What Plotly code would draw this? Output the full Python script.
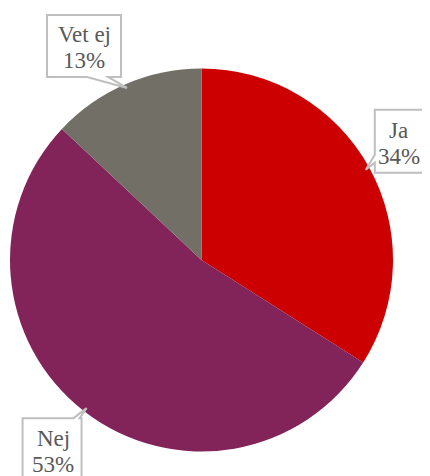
import math
import plotly.graph_objects as go

labels = ["Ja", "Nej", "Vet ej"]
values = [34, 53, 13]
colors = ["#CC0000", "#82245A", "#716F66"]
pct_text = ["34%", "53%", "13%"]

OFF = 8  # page body margin
W, H = 430 - OFF, 476 - OFF
cx, cy, r = 201.5 - OFF, 260.0 - OFF, 191.5
dom_x = [(cx - r) / W, (cx + r) / W]
dom_y = [1 - (cy + r) / H, 1 - (cy - r) / H]

fig = go.Figure(go.Pie(
    labels=labels, values=values, sort=False, direction="clockwise", rotation=0,
    marker=dict(colors=colors, line=dict(width=0)),
    textinfo="none", hoverinfo="label+percent", showlegend=False,
    domain=dict(x=dom_x, y=dom_y),
))

def P(x, y):
    return f"{x / W:.5f},{1 - y / H:.5f}"

# callout boxes relative to the slice tip: left, right, top, bottom offsets (px)
boxes = {
    "Ja":     dict(box=(9, 67, -60, 3), side="left", base=(-7, -15), tdx=-5),
    "Nej":    dict(box=(-64, -5, 10, 72), side="top", base=(-13, -7), tdx=1),
    "Vet ej": dict(box=(-80, -6, -73, -11), side="bottom", base=(-40, -19), tdx=0),
}
total = sum(values)
cum = 0
for lab, v, pt in zip(labels, values, pct_text):
    mid = (cum + v / 2) / total * 2 * math.pi
    cum += v
    tx = cx + (r - 4) * math.sin(mid)
    ty = cy - (r - 4) * math.cos(mid)
    b = boxes[lab]
    L, R, T, B = tx + b["box"][0], tx + b["box"][1], ty + b["box"][2], ty + b["box"][3]
    if b["side"] == "left":
        y1, y2 = ty + b["base"][0], ty + b["base"][1]
        pts = [(L, T), (R, T), (R, B), (L, B), (L, y1), (tx, ty), (L, y2)]
    elif b["side"] == "top":
        x1, x2 = tx + b["base"][0], tx + b["base"][1]
        pts = [(L, T), (x1, T), (tx, ty), (x2, T), (R, T), (R, B), (L, B)]
    else:
        x1, x2 = tx + b["base"][0], tx + b["base"][1]
        pts = [(L, T), (R, T), (R, B), (x2, B), (tx, ty), (x1, B), (L, B)]
    path = "M " + " L ".join(P(*q) for q in pts) + " Z"
    fig.add_shape(type="path", path=path, xref="paper", yref="paper",
                  fillcolor="white", line=dict(color="#BFBFBF", width=2), layer="above")
    mx, my = (L + R) / 2 + b["tdx"], (T + B) / 2
    for txt, dy in ((lab, -11), (pt, 15)):
        fig.add_annotation(
            x=mx / W, y=1 - (my + dy) / H, xref="paper", yref="paper",
            xanchor="center", yanchor="middle",
            text=txt, showarrow=False,
            font=dict(family="Liberation Serif, DejaVu Serif, serif", size=23, color="#595959"),
        )

fig.update_layout(
    width=W, height=H, margin=dict(l=0, r=0, t=0, b=0),
    paper_bgcolor="white", plot_bgcolor="white",
)
fig.write_html("out.html")
